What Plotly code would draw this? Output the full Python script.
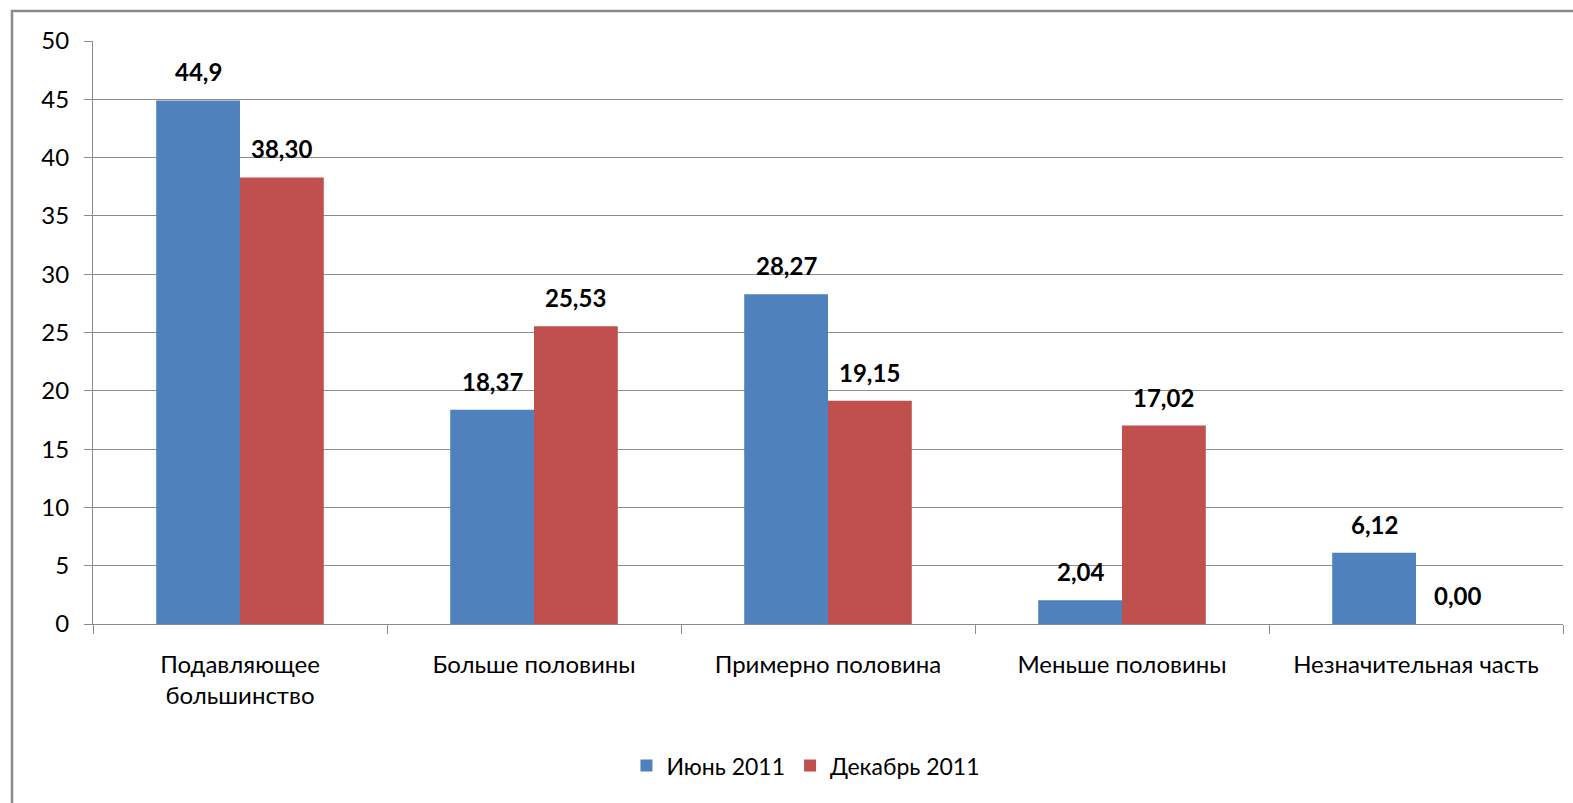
import plotly.graph_objects as go

# Survey answer categories (x axis)
categories = [
    "Подавляющее<br>большинство",
    "Больше половины",
    "Примерно половина",
    "Меньше половины",
    "Незначительная часть",
]

# Two survey waves
june_name = "Июнь 2011"
june_values = [44.9, 18.37, 28.27, 2.04, 6.12]
june_labels = ["44,9", "18,37", "28,27", "2,04", "6,12"]

dec_name = "Декабрь 2011"
dec_values = [38.30, 25.53, 19.15, 17.02, 0.00]
dec_labels = ["38,30", "25,53", "19,15", "17,02", "0,00"]

y_ticks = [0, 5, 10, 15, 20, 25, 30, 35, 40, 45, 50]

BLUE = "#4F81BD"
RED = "#C0504D"
GRID = "#8C8C8C"
FONT = "Lato"
FS = 24

W, H = 1573, 803
ML, MR, MT, MB = 93, 10, 41, 179

fig = go.Figure()
fig.add_trace(go.Bar(name=june_name, x=categories, y=june_values,
                     marker=dict(color=BLUE, line=dict(width=0))))
fig.add_trace(go.Bar(name=dec_name, x=categories, y=dec_values,
                     marker=dict(color=RED, line=dict(width=0))))

# Value labels above each bar
plot_w = W - ML - MR
bar_w = plot_w / len(categories) * (1 - 0.43) / 2
annotations = []
for series_vals, series_labels, shift in ((june_values, june_labels, -bar_w / 2),
                                          (dec_values, dec_labels, bar_w / 2)):
    for cat, v, lab in zip(categories, series_vals, series_labels):
        annotations.append(dict(
            x=cat, y=v, xref="x", yref="y", text=f"<b>{lab}</b>",
            showarrow=False, xanchor="center", yanchor="bottom",
            xshift=shift, yshift=12,
            font=dict(family=FONT, size=FS, color="#000000"),
        ))

# Outer chart frame (runs off the right and bottom edges)
plot_h = H - MT - MB
fx0 = (12 - ML) / plot_w
fy1 = (H - MB - 11) / plot_h
shapes = [dict(type="rect", xref="paper", yref="paper",
               x0=fx0, x1=1.2, y0=-0.5, y1=fy1,
               line=dict(color="#8A8A8A", width=2.5), layer="below")]

fig.update_layout(
    width=W, height=H,
    margin=dict(l=ML, r=MR, t=MT, b=MB, pad=0),
    paper_bgcolor="white", plot_bgcolor="white",
    barmode="group", bargap=0.43, bargroupgap=0,
    font=dict(family=FONT, size=FS, color="#000000"),
    showlegend=True,
    legend=dict(orientation="h", x=0.485, xanchor="center",
                y=-0.243, yanchor="middle",
                font=dict(family=FONT, size=FS - 1, color="#000000"),
                itemwidth=30, tracegroupgap=0),
    annotations=annotations,
    shapes=shapes,
)

fig.update_yaxes(
    range=[0, 50], tickvals=y_ticks, ticktext=[str(t) for t in y_ticks],
    showgrid=True, gridcolor=GRID, gridwidth=1,
    showline=True, linecolor=GRID, linewidth=1,
    ticks="outside", ticklen=8, tickcolor=GRID,
    ticklabelstandoff=10,
    zeroline=False,
    tickfont=dict(family=FONT, size=FS, color="#000000"),
)
fig.update_xaxes(
    showgrid=False, showline=True, linecolor=GRID, linewidth=1,
    ticks="outside", ticklen=9, tickcolor=GRID, tickson="boundaries",
    ticklabelstandoff=19,
    tickfont=dict(family=FONT, size=FS, color="#000000"),
)

fig.write_html("out.html")
